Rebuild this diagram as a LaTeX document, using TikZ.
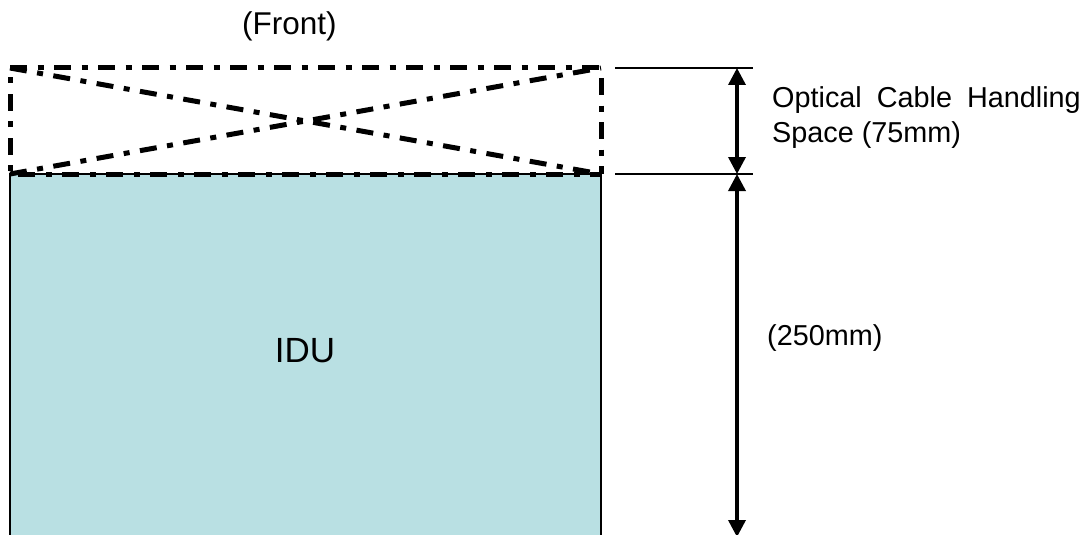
\documentclass[tikz,border=0pt]{standalone}
\usepackage{fontspec}
\setmainfont{Liberation Sans}
\usetikzlibrary{arrows.meta}
\definecolor{idufill}{HTML}{B9E0E3}
\tikzset{
  x=1pt,y=-1pt,
  dashdot/.style={draw=black,line width=5pt,dash pattern=on 17pt off 10.5pt on 6pt off 10.5pt,dash phase=#1},
  dashdot/.default=0pt,
  dim/.style={draw=black,line width=3.5pt,{Triangle[length=17pt,width=17pt]}-{Triangle[length=17pt,width=17pt]}},
  ext/.style={draw=black,line width=1.5pt},
  lbl/.style={inner sep=0pt,anchor=base west,font=\fontsize{28.8}{34}\selectfont},
}
\begin{document}
\begin{tikzpicture}
\useasboundingbox (0,0) rectangle (1090,535);
\fill[white] (0,0) rectangle (1090,535);
\coordinate (tl) at (10,68);
\coordinate (tr) at (601,68);
\coordinate (ml) at (10,174);
\coordinate (mr) at (601,174);
\coordinate (bl) at (10,537);
\coordinate (br) at (601,537);
\path[fill=idufill] (ml) rectangle (br);
\draw[line width=1.5pt] (bl) -- (ml) -- (mr) -- (br);
\draw[dashdot] (tl) -- (tr);
\draw[dashdot=34pt] (tr) -- (mr);
\draw[dashdot=6pt] (mr) -- (ml);
\draw[dashdot=24.5pt] (ml) -- (tl);
\draw[dashdot] (tl) -- (mr);
\draw[dashdot] (ml) -- (tr);
\coordinate (e1a) at (615,68);
\coordinate (e1b) at (753,68);
\coordinate (e2a) at (615,174);
\coordinate (e2b) at (753,174);
\draw[ext] (e1a) -- (e1b);
\draw[ext] (e2a) -- (e2b);
\coordinate (d1) at (737,68);
\coordinate (d2) at (737,174);
\coordinate (d3) at (737,537);
\draw[dim] (d1) -- (d2);
\draw[dim] (d2) -- (d3);
\node[lbl,font=\fontsize{31.5}{36}\selectfont] (front) at (242,34.5) {(Front)};
\node[lbl] (opt1) at (772,107) {Optical\hspace{7pt} Cable\hspace{7pt} Handling};
\node[lbl] (opt2) at (772,142) {Space (75mm)};
\node[lbl] (mm) at (767,345) {(250mm)};
\node[inner sep=0pt,anchor=base,font=\fontsize{35}{40}\selectfont] (idu) at (305,362) {IDU};
\end{tikzpicture}
\end{document}
